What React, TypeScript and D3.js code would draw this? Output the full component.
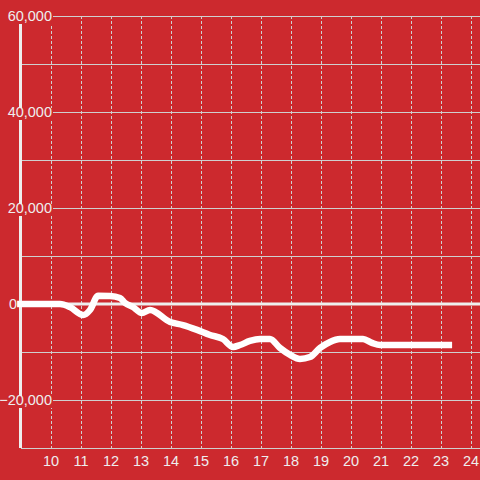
import * as d3 from "d3";

// hours of the day vs cumulative value
const hours = [
  8.87, 10.3, 10.63, 11.07, 11.3, 11.57, 11.97, 12.3, 12.47, 12.73, 13.03, 13.3,
  13.97, 14.4, 14.87, 15.3, 15.73, 16.07, 16.3, 16.63, 16.97, 17.3, 17.63,
  17.97, 18.3, 18.63, 18.97, 19.3, 19.63, 20.4, 20.7, 20.97, 23.37,
];
const values = [
  0, 0, -625, -2300, -1250, 1700, 1650, 1250, 200, -625, -1875, -1250, -3750,
  -4400, -5400, -6450, -7300, -8950, -8550, -7700, -7300, -7300, -9150,
  -10600, -11450, -11050, -9150, -7900, -7300, -7300, -8100, -8550, -8550,
];
const yTicks = [60000, 40000, 20000, 0, -20000];
const yMinor = [50000, 30000, 10000, -10000, -30000];
const xTicks = [10, 11, 12, 13, 14, 15, 16, 17, 18, 19, 20, 21, 22, 23, 24];

const W = 480;
const H = 480;
const bg = "#cc292e";
const fg = "#eeeeee";
const grid = "#cfcfcf";

export default function App() {
  const x = d3.scaleLinear([9, 24], [21, 471]);
  const y = d3.scaleLinear([-30000, 60000], [448, 16]);
  const line = d3
    .line<number>()
    .x((_, i) => x(hours[i]))
    .y((d) => y(d))
    .curve(d3.curveMonotoneX);
  const fmt = d3.format(",");

  return (
    <svg
      width={W}
      height={H}
      style={{ position: "absolute", left: 0, top: 0, display: "block" }}
      fontFamily="'Liberation Sans', Arial, sans-serif"
    >
      <rect width={W} height={H} fill={bg} />
      {/* horizontal grid */}
      <g stroke={grid} strokeWidth={1}>
        {[...yTicks, ...yMinor].map((t) => (
          <line key={t} x1={21} x2={W} y1={y(t) + 0.5} y2={y(t) + 0.5} />
        ))}
      </g>
      {/* vertical dashed grid */}
      <g stroke={grid} strokeWidth={1} strokeDasharray="3,2">
        {xTicks.map((t) => (
          <line key={t} x1={x(t) + 0.5} x2={x(t) + 0.5} y1={16} y2={448} />
        ))}
      </g>
      {/* y axis line */}
      <line x1={20.5} x2={20.5} y1={16} y2={448} stroke={fg} strokeWidth={3} />
      {/* zero line */}
      <line x1={21} x2={W} y1={y(0)} y2={y(0)} stroke={fg} strokeWidth={3} />
      {/* y labels */}
      <g fill={fg} fontSize={14.5}>
        {yTicks.map((t) => {
          const lx = t === 0 ? 17 : 52;
          return (
            <g key={t}>
              {t !== 0 && (
                <rect x={2} y={y(t) - 4} width={51} height={12} fill={bg} />
              )}
              <text x={lx} y={y(t)} dy="0.36em" textAnchor="end">
                {fmt(t)}
              </text>
            </g>
          );
        })}
      </g>
      {/* x labels */}
      <g fill={fg} fontSize={14.5} textAnchor="middle">
        {xTicks.map((t) => (
          <text key={t} x={x(t)} y={466}>
            {t}
          </text>
        ))}
      </g>
      <path
        d={line(values) as string}
        fill="none"
        stroke="#ffffff"
        strokeWidth={6.5}
        strokeLinejoin="round"
      />
    </svg>
  );
}
